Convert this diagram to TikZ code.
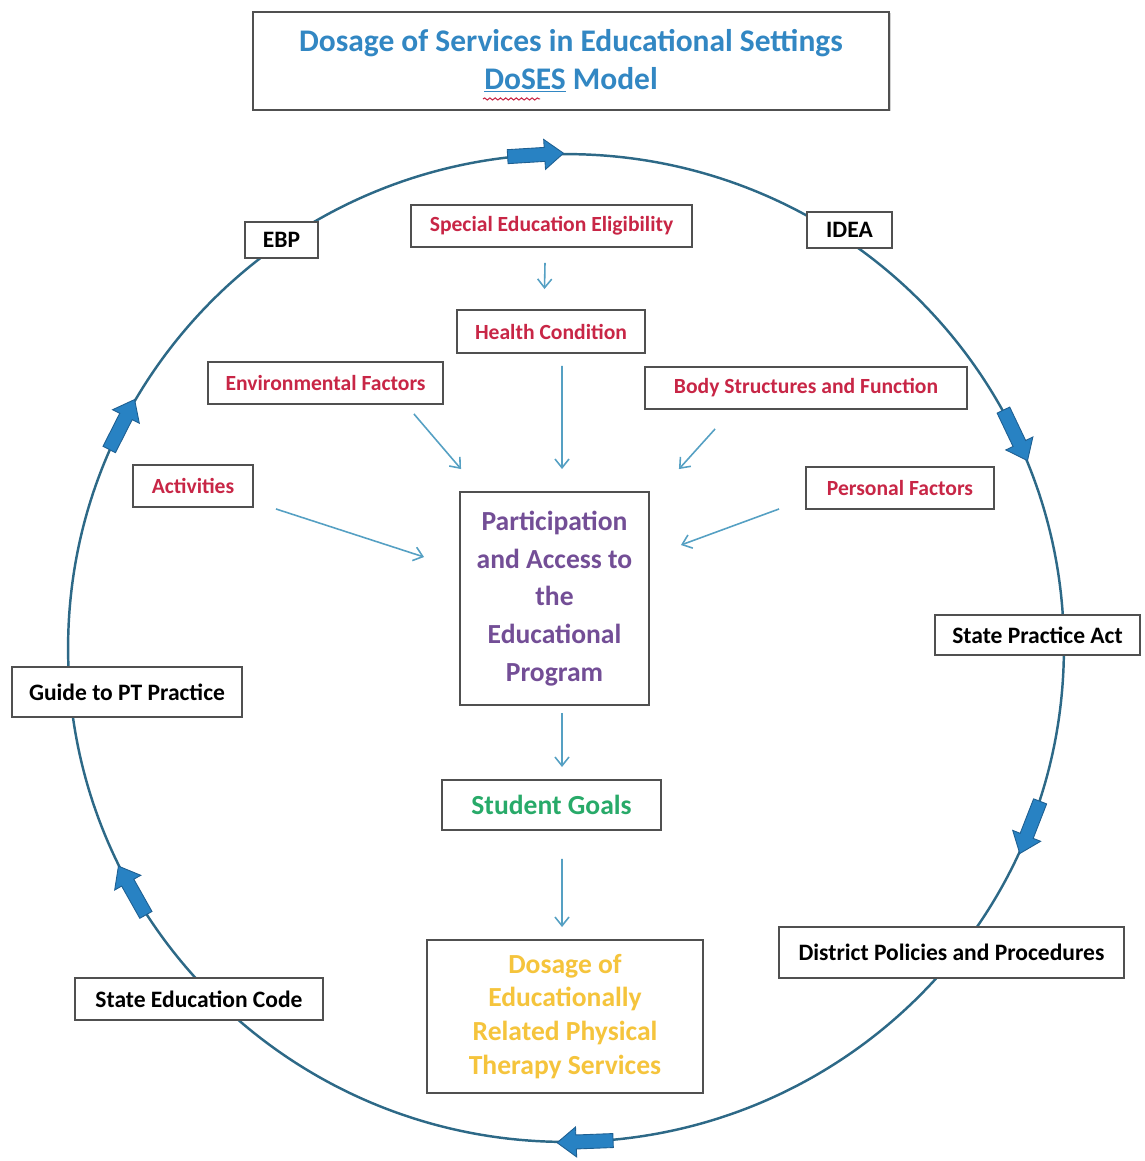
\documentclass[tikz,border=0pt]{standalone}
\usepackage{fontspec}
\setmainfont{Carlito}
\usetikzlibrary{arrows.meta,decorations.pathmorphing,shadows}
\definecolor{titleblue}{RGB}{50,135,195}
\definecolor{edured}{RGB}{200,38,70}
\definecolor{partpurple}{RGB}{115,78,150}
\definecolor{goalgreen}{RGB}{40,170,105}
\definecolor{dosegold}{RGB}{245,196,60}
\definecolor{circline}{RGB}{45,105,135}
\definecolor{blockfill}{RGB}{40,130,195}
\definecolor{blockedge}{RGB}{30,95,145}
\definecolor{smallarrow}{RGB}{85,160,195}
\definecolor{boxedge}{RGB}{80,80,80}
\begin{document}
\begin{tikzpicture}[x=0.02cm,y=-0.02cm,
  box/.style={draw=boxedge, line width=1.1pt, fill=white, align=center, inner sep=2pt,
    drop shadow={shadow xshift=0.8pt, shadow yshift=-0.8pt, fill=black!35},
    font=\bfseries\fontsize{13.4}{16}\selectfont},
  redbox/.style={box, text=edured, font=\bfseries\fontsize{12.3}{15}\selectfont},
  bigbox/.style={box, font=\bfseries\fontsize{15.7}{21.5}\selectfont},
  circ/.style={draw=circline, line width=1.4pt},
  thin/.style={draw=smallarrow, line width=0.9pt, -{Straight Barb[length=5pt,width=8pt,line width=0.9pt]}},
  blockarrow/.style={fill=blockfill, draw=blockedge, line width=0.5pt, line join=miter}
]
\useasboundingbox (0,0) rectangle (1145,1161);
\coordinate (C) at (566,648);
\draw[circ] (C) ellipse[x radius=9.96cm, y radius=9.88cm];

% block arrows on the ring (clockwise)
\foreach \a in {93.5,25.5,-21.3,-87.8,209.4,153.1} {
  \begin{scope}[shift={(C)}, x=0.02cm, y=0.02cm, shift={(\a:498 and 494)}, rotate=\a-90]
    \filldraw[blockarrow] (-28,-7) -- (9,-7) -- (9,-15) -- (28,0) -- (9,15) -- (9,7) -- (-28,7) -- cycle;
  \end{scope}
}

% title
\node[box, minimum width=12.74cm, minimum height=1.96cm, text=titleblue,
      font=\bfseries\fontsize{17.9}{21.5}\selectfont] (title) at (571,61)
  {Dosage of Services in Educational Settings\\ \underline{DoSES} Model};
\draw[edured, line width=0.6pt, decorate, decoration={snake, amplitude=0.6pt, segment length=3pt}]
  ([shift={(-88,-12)}]title.south) -- ([shift={(-31,-12)}]title.south);

% ring labels
\node[box, minimum width=1.46cm, minimum height=0.72cm] (ebp) at (281.5,240) {EBP};
\node[box, minimum width=1.70cm, minimum height=0.72cm] (idea) at (849.5,230) {IDEA};
\node[box, minimum width=4.10cm, minimum height=0.80cm] (spa) at (1037.5,635) {State Practice Act};
\node[box, minimum width=4.60cm, minimum height=1.00cm] (guide) at (127,692) {Guide to PT Practice};
\node[box, minimum width=6.90cm, minimum height=1.02cm] (dpp) at (951.5,952.5) {District Policies and Procedures};
\node[box, minimum width=4.96cm, minimum height=0.84cm] (sec) at (199,999) {State Education Code};

% red factor boxes
\node[redbox, minimum width=5.62cm, minimum height=0.84cm] (see) at (551.5,226) {Special Education Eligibility};
\node[redbox, minimum width=3.76cm, minimum height=0.86cm] (hc) at (551,331.5) {Health Condition};
\node[redbox, minimum width=4.70cm, minimum height=0.84cm] (env) at (325.5,383) {Environmental Factors};
\node[redbox, minimum width=6.44cm, minimum height=0.84cm] (body) at (806,388) {Body Structures and Function};
\node[redbox, minimum width=2.40cm, minimum height=0.84cm] (act) at (193,486) {Activities};
\node[redbox, minimum width=3.76cm, minimum height=0.84cm] (pers) at (900,488) {Personal Factors};

% central column
\node[bigbox, minimum width=3.78cm, minimum height=4.26cm, text=partpurple] (part) at (554.5,598.5)
  {Participation\\and Access to\\the\\Educational\\Program};
\node[bigbox, minimum width=4.38cm, minimum height=1.00cm, text=goalgreen] (sg) at (551.5,805) {Student Goals};
\node[bigbox, minimum width=5.52cm, minimum height=3.06cm, text=dosegold,
      font=\bfseries\fontsize{15.7}{19.3}\selectfont] (dos) at (565,1016.5)
  {Dosage of\\Educationally\\Related Physical\\Therapy Services};

% thin connectors
\draw[thin] ([shift={(-6.5,15)}]see.south) -- ([shift={(-6.5,-20)}]hc.north);
\draw[thin] ([shift={(11,12)}]hc.south) -- ([shift={(7.5,-22)}]part.north);
\draw[thin] ([shift={(-30,9)}]env.south east) -- ([shift={(2,-22)}]part.north west);
\draw[thin] ([shift={(71,19)}]body.south west) -- ([shift={(29,-22)}]part.north east);
\draw[thin] ([shift={(22,1)}]act.south east) -- ([shift={(-35,-41.5)}]part.west);
\draw[thin] ([shift={(-26,-1)}]pers.south west) -- ([shift={(31,-53.5)}]part.east);
\draw[thin] ([shift={(7.5,7)}]part.south) -- ([shift={(10.5,-12)}]sg.north);
\draw[thin] ([shift={(10.5,28)}]sg.south) -- ([shift={(-3,-12)}]dos.north);
\end{tikzpicture}
\end{document}
